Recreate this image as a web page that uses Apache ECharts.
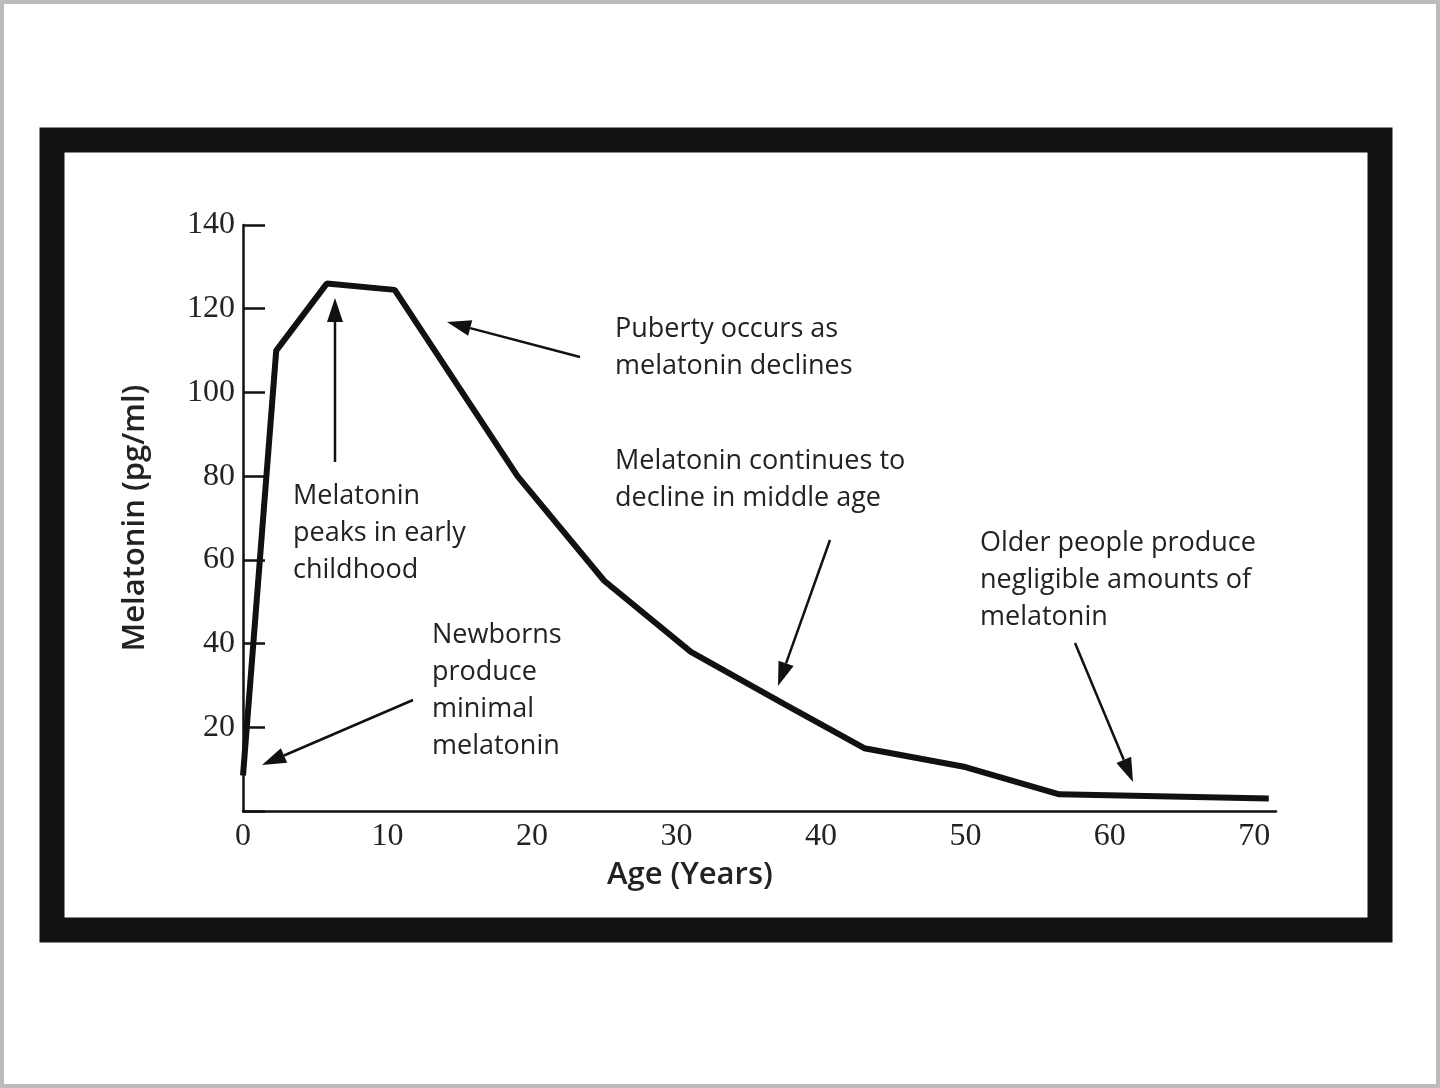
<!DOCTYPE html>
<html><head><meta charset="utf-8">
<script src="https://cdn.jsdelivr.net/npm/echarts@6/dist/echarts.min.js"></script>
<style>html,body{margin:0;padding:0;background:#fff}#c{width:1440px;height:1088px}</style>
</head><body><div id="c"></div>
<script>
const ages = [0, 2.3, 5.8, 10.5, 19, 25, 31, 37.5, 43, 50, 56.5, 71];
const melatonin = [8.5, 110, 126, 124.5, 80, 55, 38, 25.5, 15, 10.5, 4, 3];
const yTicks = [20, 40, 60, 80, 100, 120, 140];

const chart = echarts.init(document.getElementById('c'));
const sans = '"Open Sans", "Noto Sans", sans-serif';
const serif = '"Liberation Serif", "DejaVu Serif", serif';

function arrow(x1, y1, x2, y2) {
  const a = Math.atan2(y2 - y1, x2 - x1), L = 24, W = 8;
  const bx = x2 - L * Math.cos(a), by = y2 - L * Math.sin(a);
  const px = -Math.sin(a) * W, py = Math.cos(a) * W;
  return [
    {type: 'line', shape: {x1, y1, x2: bx, y2: by}, style: {stroke: '#111', lineWidth: 2.5}, z: 50},
    {type: 'polygon', shape: {points: [[x2, y2], [bx + px, by + py], [bx - px, by - py]]}, style: {fill: '#111'}, z: 50}
  ];
}
function label(x, y, lines) {
  return {type: 'text', left: x, top: y, z: 50,
    style: {text: lines.join('\n'), font: '27px ' + sans, fill: '#222', lineHeight: 37}};
}
const graphics = [
  {type: 'rect', shape: {x: 0, y: 0, width: 1440, height: 1088}, style: {fill: 'none', stroke: '#bbb', lineWidth: 8}, z: 40},
  {type: 'rect', shape: {x: 52, y: 140, width: 1328, height: 790}, style: {fill: 'none', stroke: '#111', lineWidth: 25}, z: 40},
  {type: 'text', left: 607, top: 860, z: 50, style: {text: 'Age (Years)', font: '600 31px ' + sans, fill: '#222'}},
  label(293, 478, ['Melatonin', 'peaks in early', 'childhood']),
  label(432, 617, ['Newborns', 'produce', 'minimal', 'melatonin']),
  label(615, 311, ['Puberty occurs as', 'melatonin declines']),
  label(615, 443, ['Melatonin continues to', 'decline in middle age']),
  label(980, 525, ['Older people produce', 'negligible amounts of', 'melatonin']),
  ...arrow(335, 462, 335, 298),
  ...arrow(580, 357, 447, 322),
  ...arrow(830, 540, 778, 686),
  ...arrow(413, 700, 262, 765),
  ...arrow(1075, 643, 1133, 782)
];

chart.setOption({
  backgroundColor: '#fff',
  animation: false,
  grid: {left: 243, right: 164, top: 225, bottom: 277},
  xAxis: {type: 'value', min: 0, max: 71.5, interval: 10,
    axisLine: {lineStyle: {color: '#111', width: 2.5}},
    axisTick: {show: false}, splitLine: {show: false},
    axisLabel: {showMaxLabel: false, color: '#222', font: '', fontFamily: serif, fontSize: 32, margin: 10}},
  yAxis: {type: 'value', min: 0, max: 140, interval: 20,
    name: 'Melatonin (pg/ml)', nameLocation: 'middle', nameGap: 92,
    nameTextStyle: {fontFamily: sans, fontSize: 31, fontWeight: 600, color: '#222'},
    axisLine: {lineStyle: {color: '#111', width: 2.5}},
    axisTick: {show: true, length: 22, inside: true, lineStyle: {color: '#111', width: 2.5}},
    splitLine: {show: false},
    axisLabel: {color: '#222', fontFamily: serif, fontSize: 32, margin: 8,
      formatter: v => yTicks.includes(v) ? String(v) : ''}},
  series: [{type: 'line', data: ages.map((a, i) => [a, melatonin[i]]),
    symbol: 'none', lineStyle: {color: '#111', width: 6}}],
  graphic: graphics
});
</script></body></html>
